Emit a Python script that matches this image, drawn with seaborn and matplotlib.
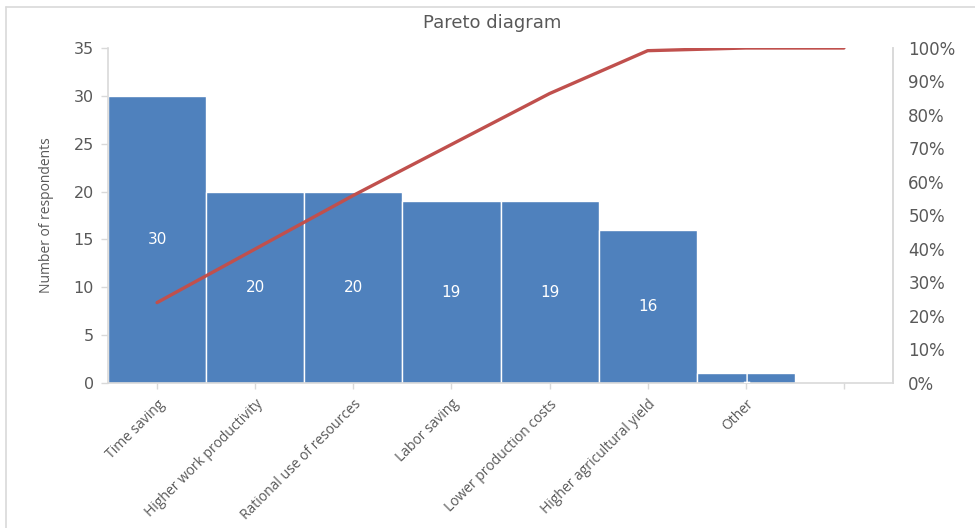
import matplotlib
matplotlib.use("Agg")
import matplotlib.pyplot as plt
from matplotlib.lines import Line2D
from matplotlib.ticker import MultipleLocator, FuncFormatter
import seaborn as sns
import numpy as np
import pandas as pd

# ---- data ----
categories = ["Time saving", "Higher work productivity", "Rational use of resources",
              "Labor saving", "Lower production costs", "Higher agricultural yield",
              "Other", ""]
counts = [30, 20, 20, 19, 19, 16, 1, np.nan]
cumulative_pct = [24, 40, 56, 71.2, 86.4, 99.2, 100, 100]
bar_labels = ["30", "20", "20", "19", "19", "16", "1", ""]

BAR_COLOR = "#4F81BD"
LINE_COLOR = "#C0504D"
TEXT_COLOR = "#595959"
AXIS_COLOR = "#D9D9D9"

sns.set_theme(style="white")
plt.rcParams["font.family"] = ["DejaVu Sans"]
CAT_FONT = ["Open Sans", "DejaVu Sans"]

df = pd.DataFrame({"category": categories, "count": counts})

fig = plt.figure(figsize=(9.75, 5.28), dpi=100)
ax = fig.add_axes([108 / 975, 1 - 383 / 528, (893 - 108) / 975, (383 - 48) / 528])

sns.barplot(data=df, x="category", y="count", order=categories, color=BAR_COLOR,
            width=1.0, saturation=1, edgecolor="white", linewidth=1, ax=ax)

ax.set_xlim(-0.5, len(categories) - 0.5)
ax.set_ylim(0, 35)
ax.yaxis.set_major_locator(MultipleLocator(5))
ax.set_xlabel("")
ax.set_ylabel("Number of respondents", color=TEXT_COLOR, fontsize=10,
              family=CAT_FONT, labelpad=14)

# bar value labels centered in bars
for i, (c, lab) in enumerate(zip(counts, bar_labels)):
    if lab:
        ax.text(i, c / 2, lab, ha="center", va="center", color="white", fontsize=11)

ax.set_xticks(range(len(categories)))
ax.set_xticklabels(categories, rotation=45, ha="right", va="top",
                   rotation_mode="anchor", fontsize=10, color=TEXT_COLOR,
                   family=CAT_FONT)
ax.tick_params(axis="x", length=4, color=AXIS_COLOR, width=1, pad=6, direction="out",
               bottom=True)
ax.tick_params(axis="y", length=5, color=AXIS_COLOR, width=1, labelsize=11.5,
               labelcolor=TEXT_COLOR, pad=5, left=True)

for side in ["left", "bottom", "right"]:
    ax.spines[side].set_visible(True)
    ax.spines[side].set_color(AXIS_COLOR)
    ax.spines[side].set_linewidth(1.2)
ax.spines["top"].set_visible(False)

# secondary axis: cumulative percentage
ax2 = ax.twinx()
sns.lineplot(x=list(range(len(categories))), y=cumulative_pct, ax=ax2,
             color=LINE_COLOR, linewidth=2.4, sort=False)
ax2.set_ylim(0, 100)
ax2.yaxis.set_major_locator(MultipleLocator(10))
ax2.yaxis.set_major_formatter(FuncFormatter(lambda v, p: f"{v:.0f}%"))
ax2.tick_params(axis="y", length=0, labelsize=12, labelcolor=TEXT_COLOR, pad=11)
for lab in ax2.get_yticklabels():
    lab.set_horizontalalignment("left")
ax2.set_ylabel("")
for side in ["left", "bottom", "top"]:
    ax2.spines[side].set_visible(False)
ax2.spines["right"].set_color(AXIS_COLOR)
ax2.spines["right"].set_linewidth(1.2)
ax2.grid(False)
ax.grid(False)

fig.text(492 / 975, 1 - 23 / 528, "Pareto diagram", ha="center", va="center",
         fontsize=13, color=TEXT_COLOR)

# outer frame (top and left edges visible)
fig.add_artist(Line2D([6 / 975, 1], [1 - 7 / 528, 1 - 7 / 528], color=AXIS_COLOR,
                      linewidth=1.2, transform=fig.transFigure))
fig.add_artist(Line2D([6 / 975, 6 / 975], [0, 1 - 7 / 528], color=AXIS_COLOR,
                      linewidth=1.2, transform=fig.transFigure))

fig.savefig("out.png", dpi=100)
